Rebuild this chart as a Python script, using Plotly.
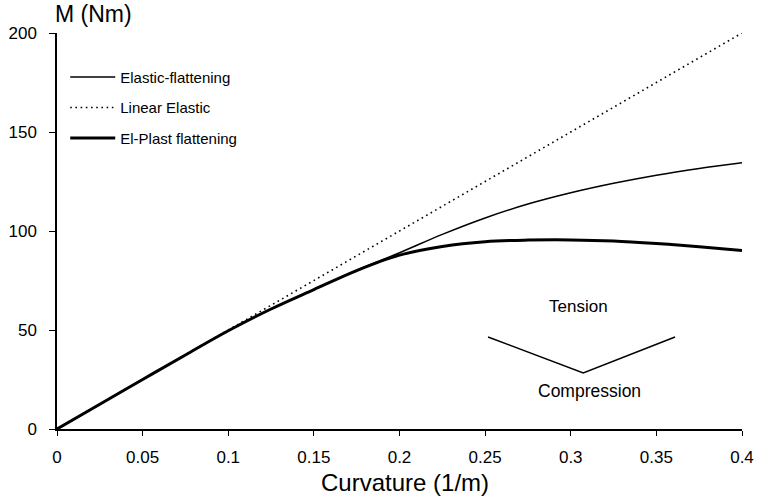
import plotly.graph_objects as go

# ---- data ----
curvature = [0, 0.025, 0.05, 0.075, 0.1, 0.125, 0.15, 0.175, 0.2, 0.225, 0.25,
             0.275, 0.3, 0.325, 0.35, 0.375, 0.4]
linear_elastic = [0, 200]
linear_curv = [0, 0.4]
elastic_flattening = [0, 12.5, 25, 37.4, 49.6, 60.6, 70.4, 80.2, 89.0, 98.3, 106.6,
                      113.6, 119.3, 124.1, 128.2, 131.6, 134.5]
el_plast_flattening = [0, 12.5, 25, 37.4, 49.6, 60.6, 70.4, 80.0, 87.8, 92.2, 94.6,
                       95.4, 95.5, 95.0, 93.7, 92.0, 90.2]

v_x = [0.2517, 0.3073, 0.3609]
v_y = [46.5, 28.3, 46.5]
tension_pos = (0.3048, 62.0)
compression_pos = (0.3112, 19.0)

x_ticks = [0, 0.05, 0.1, 0.15, 0.2, 0.25, 0.3, 0.35, 0.4]
x_tick_text = ["0", "0.05", "0.1", "0.15", "0.2", "0.25", "0.3", "0.35", "0.4"]
y_ticks = [0, 50, 100, 150, 200]

FONT = "Liberation Sans, Arial, Helvetica, sans-serif"

fig = go.Figure()
fig.add_trace(go.Scatter(x=curvature, y=elastic_flattening, mode="lines",
                         name="Elastic-flattening", legendgroup="a",
                         line=dict(color="black", width=1.5, shape="spline")))
fig.add_trace(go.Scatter(x=linear_curv, y=linear_elastic, mode="lines",
                         name="Linear Elastic", legendgroup="b",
                         line=dict(color="black", width=1.6, dash="1.6px,3.6px")))
fig.add_trace(go.Scatter(x=curvature, y=el_plast_flattening, mode="lines",
                         name="El-Plast flattening", legendgroup="c",
                         line=dict(color="black", width=3, shape="spline")))
fig.add_trace(go.Scatter(x=v_x, y=v_y, mode="lines", showlegend=False,
                         line=dict(color="black", width=1.5), hoverinfo="skip"))

fig.add_annotation(x=tension_pos[0], y=tension_pos[1], text="Tension",
                   showarrow=False, font=dict(size=17, color="black", family=FONT))
fig.add_annotation(x=compression_pos[0], y=compression_pos[1], text="Compression",
                   showarrow=False, font=dict(size=17.5, color="black", family=FONT))
fig.add_annotation(x=0, xref="paper", y=1, yref="paper", xanchor="left",
                   yanchor="bottom", xshift=-4, yshift=4, text="M (Nm)",
                   showarrow=False, font=dict(size=23, color="black", family=FONT))
fig.add_annotation(x=0.5, xref="paper", y=0, yref="paper", yanchor="middle",
                   yshift=-53, xshift=5, text="Curvature (1/m)",
                   showarrow=False, font=dict(size=24, color="black", family=FONT))

fig.update_layout(
    width=761, height=502,
    margin=dict(l=57, r=19, t=33, b=73, autoexpand=False),
    paper_bgcolor="white", plot_bgcolor="white",
    font=dict(family=FONT, color="black"),
    showlegend=True,
    legend=dict(x=0.012, y=0.93, xanchor="left", yanchor="top",
                bgcolor="rgba(0,0,0,0)", font=dict(size=15, color="black", family=FONT),
                traceorder="grouped", tracegroupgap=8, itemwidth=45),
    xaxis=dict(range=[0, 0.4], tickvals=x_ticks, ticktext=x_tick_text,
               showgrid=False, zeroline=False, showline=True, linecolor="black",
               linewidth=1.5, ticks="outside", ticklen=5, tickcolor="black",
               tickwidth=1.2, tickfont=dict(size=17, color="black", family=FONT),
               ticklabelstandoff=7, automargin=False),
    yaxis=dict(range=[0, 200], tickvals=y_ticks, showgrid=False, zeroline=False,
               showline=True, linecolor="black", linewidth=1.5, ticks="outside",
               ticklen=6, tickcolor="black", tickwidth=1.2,
               tickfont=dict(size=17, color="black", family=FONT),
               ticklabelstandoff=9, automargin=False),
)

fig.write_html("out.html")
